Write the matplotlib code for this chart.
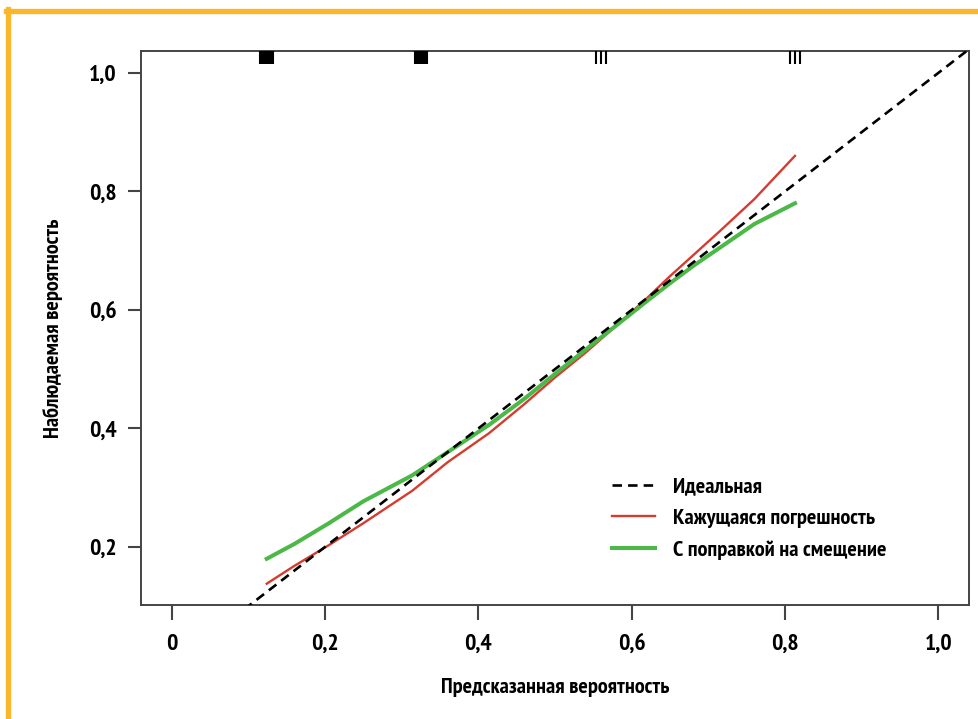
import matplotlib
matplotlib.use("Agg")
import matplotlib.pyplot as plt
from matplotlib.lines import Line2D

plt.rcParams['font.family'] = ['PT Sans Narrow', 'Roboto Condensed',
                               'Fira Sans Condensed', 'DejaVu Sans']
plt.rcParams['font.weight'] = 'bold'
plt.rcParams['axes.labelweight'] = 'bold'

# smoothed calibration curves
apparent_x = [0.124, 0.16, 0.205, 0.25, 0.314, 0.36, 0.414, 0.46, 0.50, 0.54, 0.584,
              0.62, 0.65, 0.68, 0.715, 0.76, 0.813]
apparent_y = [0.138, 0.168, 0.203, 0.240, 0.295, 0.343, 0.392, 0.441, 0.486, 0.528, 0.578,
              0.620, 0.657, 0.692, 0.733, 0.787, 0.860]

corrected_x = [0.124, 0.16, 0.205, 0.25, 0.314, 0.36, 0.414, 0.46, 0.50, 0.54, 0.584,
               0.62, 0.65, 0.68, 0.715, 0.76, 0.813]
corrected_y = [0.180, 0.205, 0.240, 0.277, 0.321, 0.360, 0.406, 0.450, 0.492, 0.533, 0.578,
               0.615, 0.645, 0.674, 0.705, 0.745, 0.780]

ideal_x = [-0.05, 1.05]
ideal_y = [-0.05, 1.05]

# distribution of predicted probabilities (rug along the top)
rug_x = [0.115, 0.117, 0.119, 0.121, 0.123, 0.125, 0.127, 0.129, 0.131, 0.132,
         0.317, 0.319, 0.321, 0.323, 0.325, 0.327, 0.329, 0.331, 0.333,
         0.553, 0.5595, 0.566,
         0.806, 0.8125, 0.820]

x_ticks = [0, 0.2, 0.4, 0.6, 0.8, 1.0]
x_labels = ['0', '0,2', '0,4', '0,6', '0,8', '1,0']
y_ticks = [0.2, 0.4, 0.6, 0.8, 1.0]
y_labels = ['0,2', '0,4', '0,6', '0,8', '1,0']

fig = plt.figure(figsize=(9.79, 7.19), dpi=100, facecolor='white')
ax = fig.add_axes([141 / 979, 1 - 605 / 719, 828 / 979, 554 / 719])

ax.plot(ideal_x, ideal_y, color='black', lw=1.9, dashes=(3.6, 2.3),
        label='Идеальная', zorder=3)
ax.plot(apparent_x, apparent_y, color='#d63b2f', lw=1.7,
        label='Кажущаяся погрешность', zorder=2)
ax.plot(corrected_x, corrected_y, color='#4cb848', lw=2.9,
        label='С поправкой на смещение', zorder=2)

ax.vlines(rug_x, 1 - 0.0235, 1, transform=ax.get_xaxis_transform(),
          color='black', lw=1.5, zorder=4)

ax.set_xlim(-0.04, 1.04)
ax.set_ylim(0.102, 1.037)

ax.set_xticks(x_ticks)
ax.set_xticklabels(x_labels)
ax.set_yticks(y_ticks)
ax.set_yticklabels(y_labels)
ax.tick_params(axis='x', length=11, width=1.5, color='#444444', pad=10,
               labelsize=17)
ax.tick_params(axis='y', length=9.5, width=1.5, color='#444444', pad=8,
               labelsize=17)

for s in ax.spines.values():
    s.set_color('#444444')
    s.set_linewidth(1.4)

ax.set_xlabel('Предсказанная вероятность', fontsize=16)
ax.set_ylabel('Наблюдаемая вероятность', fontsize=16)
ax.xaxis.set_label_coords(0.5, -0.131)
ax.yaxis.set_label_coords(-0.094, 0.5)

ax.legend(loc='upper left', bbox_to_anchor=(0.569, 0.231), frameon=False,
          fontsize=16, handlelength=1.95, handletextpad=0.77,
          labelspacing=0.54, borderpad=0, borderaxespad=0)

# orange page frame
frame = '#fbb62a'
fig.add_artist(Line2D([6 / 979, 1], [1 - 11 / 719, 1 - 11 / 719],
                      transform=fig.transFigure, color=frame, lw=3.8))
fig.add_artist(Line2D([8.5 / 979, 8.5 / 979], [0, 1 - 9 / 719],
                      transform=fig.transFigure, color=frame, lw=3.8))

fig.savefig('out.png', dpi=100, facecolor='white')
